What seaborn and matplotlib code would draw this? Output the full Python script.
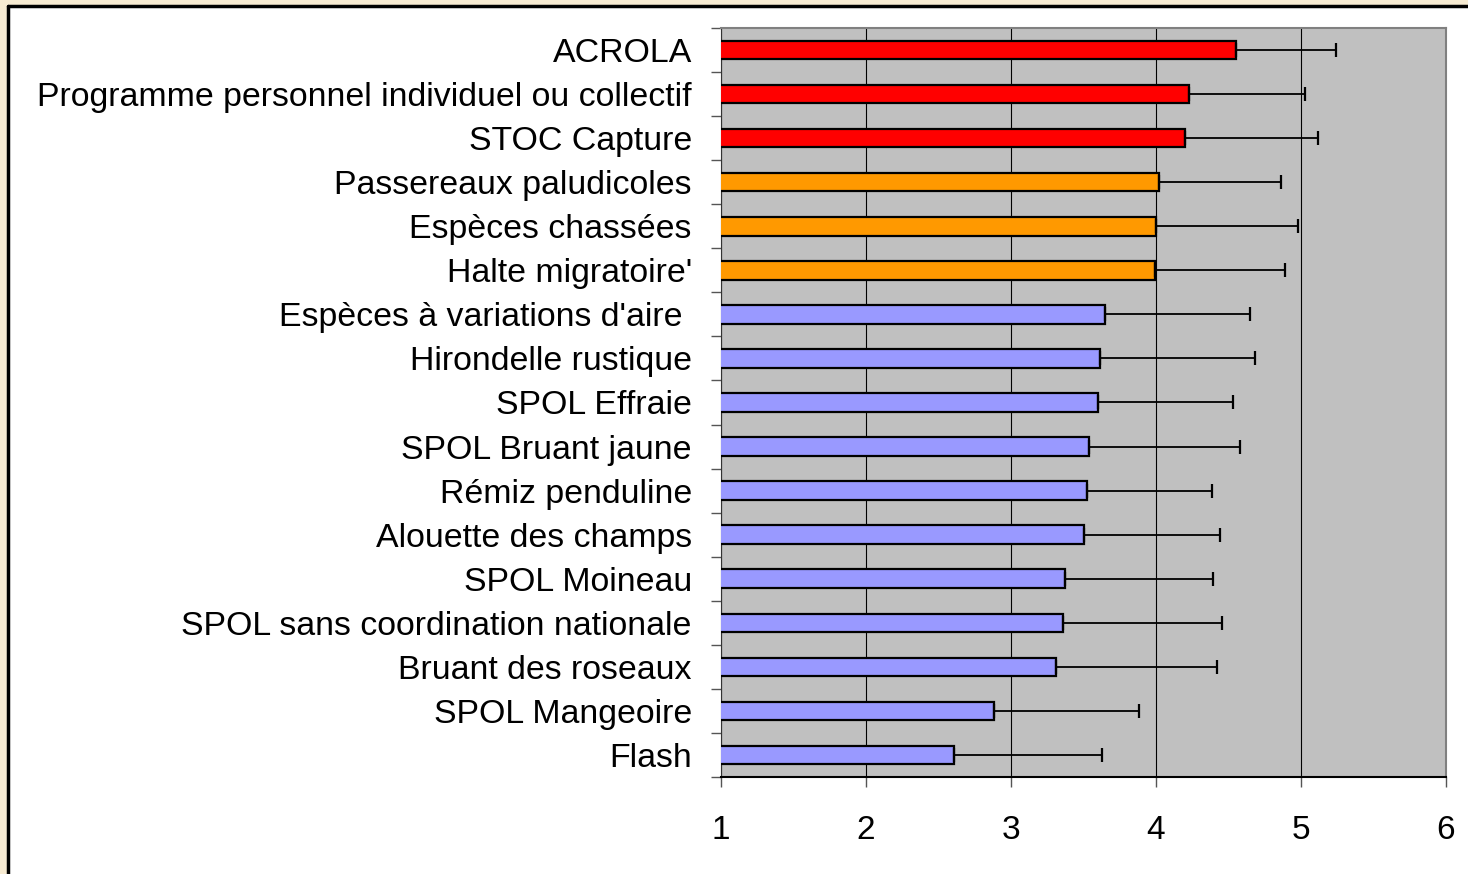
import numpy as np
import pandas as pd
import matplotlib
matplotlib.use("Agg")
import matplotlib.pyplot as plt
import seaborn as sns
from matplotlib.patches import Rectangle
from matplotlib.lines import Line2D

# values
programmes = ["ACROLA", "Programme personnel individuel ou collectif", "STOC Capture",
              "Passereaux paludicoles", "Espèces chassées", "Halte migratoire'",
              "Espèces à variations d'aire ", "Hirondelle rustique", "SPOL Effraie",
              "SPOL Bruant jaune", "Rémiz penduline", "Alouette des champs",
              "SPOL Moineau", "SPOL sans coordination nationale", "Bruant des roseaux",
              "SPOL Mangeoire", "Flash"]
scores = [4.55, 4.23, 4.20, 4.02, 4.00, 3.99, 3.645, 3.615, 3.60, 3.54, 3.525,
          3.50, 3.37, 3.36, 3.31, 2.88, 2.61]
upper = [5.24, 5.025, 5.12, 4.86, 4.98, 4.89, 4.65, 4.68, 4.53, 4.58, 4.385,
         4.44, 4.39, 4.455, 4.42, 3.88, 3.63]
groups = ["high"] * 3 + ["mid"] * 3 + ["low"] * 11
group_colors = {"high": "#FF0000", "mid": "#FF9900", "low": "#9999FF"}

df = pd.DataFrame({"programme": programmes, "score": scores,
                   "upper": upper, "group": groups})

sns.set_style("white")
plt.rcParams["font.family"] = ["Liberation Sans", "DejaVu Sans"]
plt.rcParams["text.color"] = "black"
plt.rcParams["xtick.color"] = "black"
plt.rcParams["ytick.color"] = "black"

fig = plt.figure(figsize=(14.68, 8.74), dpi=100)
fig.patch.set_facecolor("#F7EBD2")
# white frame with black left/top border (the reference is a crop of a framed chart)
fig.patches.append(Rectangle((8 / 1468, 0), 1, 1 - 6 / 874, transform=fig.transFigure,
                             facecolor="white", edgecolor="none", zorder=-5))
fig.lines.append(Line2D([8 / 1468, 8 / 1468], [0, 1 - 6 / 874], transform=fig.transFigure,
                        color="black", lw=2.5))
fig.lines.append(Line2D([8 / 1468, 1], [1 - 6 / 874, 1 - 6 / 874], transform=fig.transFigure,
                        color="black", lw=2.5))

ax = fig.add_axes([721 / 1468, 1 - 777 / 874, 725 / 1468, 749 / 874])
ax.set_facecolor("#C0C0C0")

sns.barplot(data=df, x="score", y="programme", hue="group", palette=group_colors,
            orient="h", dodge=False, legend=False, width=0.42, saturation=1,
            edgecolor="black", linewidth=1.6, ax=ax, zorder=3)

ypos = np.arange(len(programmes))
err = df["upper"] - df["score"]
ax.errorbar(df["score"], ypos, xerr=[np.zeros(len(err)), err], fmt="none",
            ecolor="black", elinewidth=1.3, capsize=5.3, capthick=1.6, zorder=4)

ax.set_xlim(1, 6)
ax.set_ylim(len(programmes) - 0.5, -0.5)
ax.set_xticks(range(1, 7))
ax.xaxis.grid(True, color="black", lw=0.8)
ax.set_axisbelow(True)
ax.set_xlabel("")
ax.set_ylabel("")

ax.tick_params(axis="x", direction="out", length=7.5, width=1, color="#555555",
               labelsize=24, labelcolor="black", pad=20, bottom=True)
ax.tick_params(axis="y", which="major", length=0, labelsize=24.4,
               labelcolor="black", pad=21)
ax.set_yticks(np.arange(-0.5, len(programmes), 1), minor=True)
ax.tick_params(axis="y", which="minor", direction="out", length=7, width=1,
               color="#555555", left=True)

for side in ["top", "right"]:
    ax.spines[side].set_color("#808080")
    ax.spines[side].set_linewidth(1.5)
ax.spines["left"].set_color("#333333")
ax.spines["bottom"].set_color("black")
ax.spines["bottom"].set_linewidth(1.5)

fig.savefig("out.png", dpi=100, facecolor=fig.get_facecolor())
